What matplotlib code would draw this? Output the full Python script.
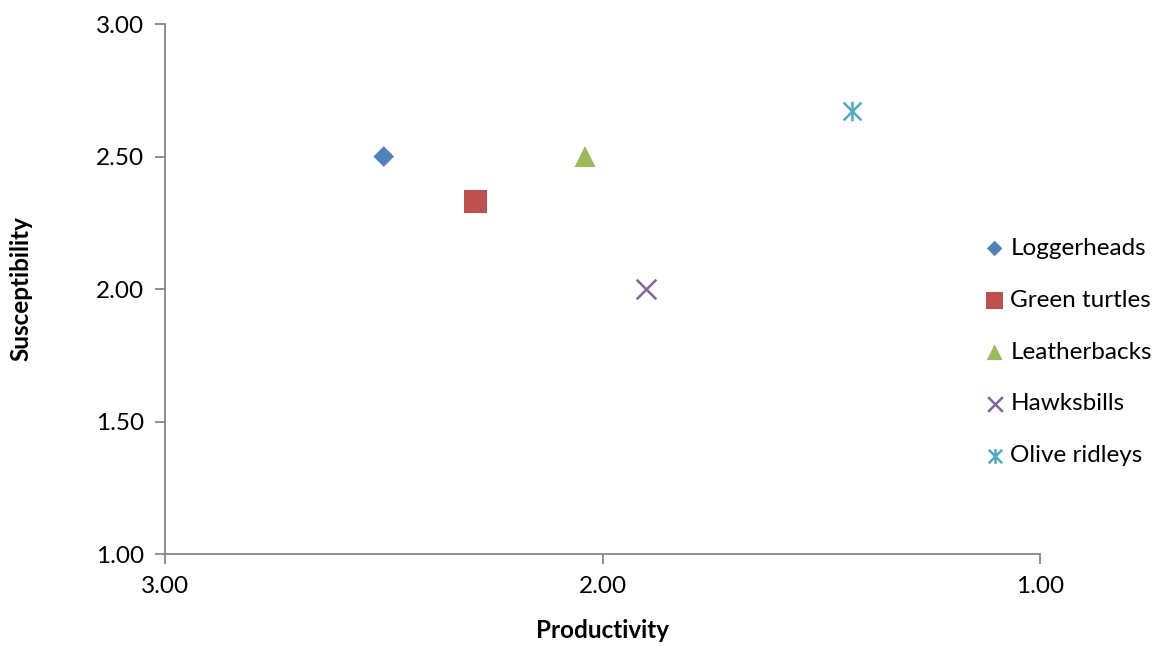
import matplotlib
matplotlib.use("Agg")
import matplotlib.pyplot as plt
from matplotlib.path import Path

species = ["Loggerheads", "Green turtles", "Leatherbacks", "Hawksbills", "Olive ridleys"]
productivity = [2.50, 2.29, 2.04, 1.90, 1.43]
susceptibility = [2.50, 2.33, 2.50, 2.00, 2.67]
colors = ["#4F81BD", "#C0504D", "#9BBB59", "#8064A2", "#4BACC6"]
x_ticks = [3.00, 2.00, 1.00]
y_ticks = [1.00, 1.50, 2.00, 2.50, 3.00]

# Asterisk marker: a diagonal cross plus a vertical stroke
star = Path(
    [(-1, -1), (1, 1), (-1, 1), (1, -1), (0, -1.1), (0, 1.1)],
    [Path.MOVETO, Path.LINETO, Path.MOVETO, Path.LINETO, Path.MOVETO, Path.LINETO],
)

styles = [
    dict(marker="D", s=110, edgecolor="none"),
    dict(marker="s", s=260, edgecolor="none"),
    dict(marker="^", s=230, edgecolor="none"),
    dict(marker="x", s=200, linewidths=1.8),
    dict(marker=star, s=200, linewidths=1.8),
]

plt.rcParams["font.family"] = ["Lato", "DejaVu Sans"]
FS = 17.5

fig = plt.figure(figsize=(11.56, 6.46), dpi=100)
ax = fig.add_axes([0.1427, 0.1424, 0.757, 0.8204])

for name, px, sy, c, st in zip(species, productivity, susceptibility, colors, styles):
    ax.scatter([px], [sy], color=c, label=name, zorder=3, **st)

ax.set_xlim(3.0, 1.0)
ax.set_ylim(1.0, 3.0)
ax.set_xticks(x_ticks)
ax.set_yticks(y_ticks)
ax.set_xticklabels([f"{v:.2f}" for v in x_ticks])
ax.set_yticklabels([f"{v:.2f}" for v in y_ticks])

for side in ("top", "right"):
    ax.spines[side].set_visible(False)
for side in ("left", "bottom"):
    ax.spines[side].set_color("#868686")
    ax.spines[side].set_linewidth(1.3)
ax.tick_params(axis="both", colors="#868686", length=7, width=1.3,
               labelsize=FS, labelcolor="black", direction="out")
ax.tick_params(axis="x", pad=9)
ax.tick_params(axis="y", pad=8)

ax.set_xlabel("Productivity", fontsize=FS, fontweight="bold", labelpad=16)
ax.set_ylabel("Susceptibility", fontsize=FS, fontweight="bold", labelpad=46)

leg = ax.legend(loc="center left", bbox_to_anchor=(0.937, 0.381), frameon=False,
                fontsize=FS, handlelength=0.8, handletextpad=0.25, labelspacing=1.27,
                markerscale=0.75, borderaxespad=0, borderpad=0)

fig.savefig("out.png", dpi=100)
